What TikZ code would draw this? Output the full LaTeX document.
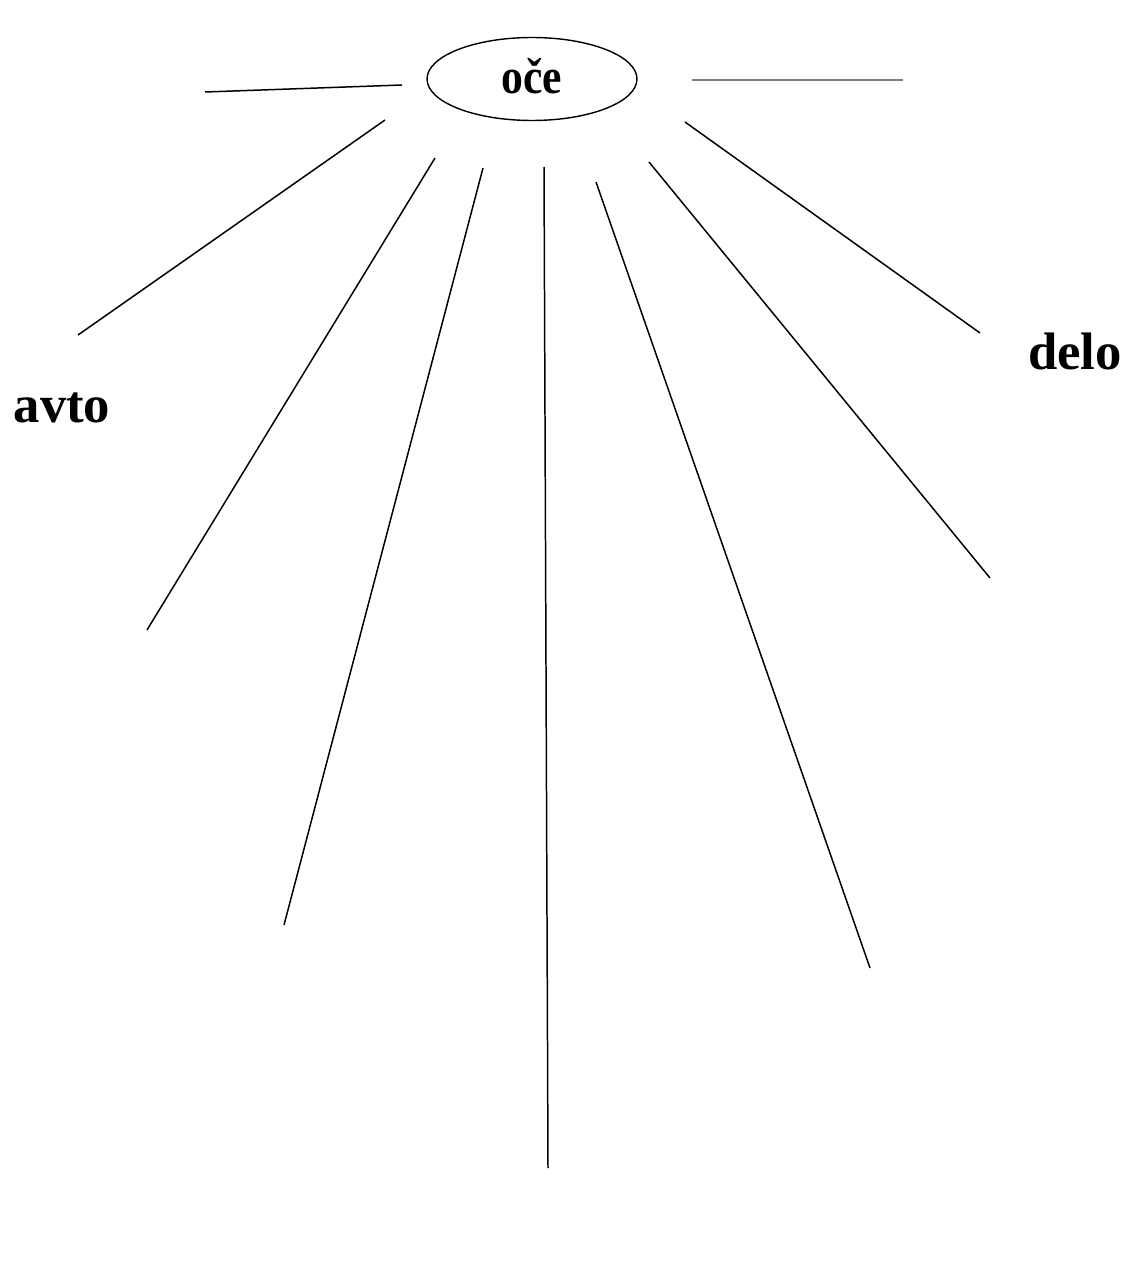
\documentclass[tikz,border=0pt]{standalone}
\usepackage{fontspec}
\setmainfont{Liberation Serif}
\usetikzlibrary{shapes.geometric}

\begin{document}
\begin{tikzpicture}[x=0.02cm,y=-0.02cm,
    ray/.style={line width=0.85pt,black},
    word/.style={font=\bfseries\fontsize{30}{35}\selectfont}]
    \useasboundingbox (0,0) rectangle (1126,1284);
    % Ellipse i midten
    \node[draw,ellipse,line width=0.8pt,inner sep=0pt,minimum width=4.2cm,minimum height=1.66cm,
      font=\bfseries\fontsize{27}{32}\selectfont] (oce) at (532,79) {\raisebox{4pt}{\scalebox{0.92}[1.05]{oče}}};
    % Stråler ud fra ellipsen
    \foreach \i/\xa/\ya/\xb/\yb in {1/402/85/205/92,3/385/120/78/335,4/435/158/147/630,
        5/483/168/284/925,6/544/167/548/1168,7/596/182/870/968,8/649/162/990/578,9/685/122/980/333} {
      \coordinate (s\i) at (\xa,\ya);
      \coordinate (e\i) at (\xb,\yb);
      \draw[ray] (s\i) -- (e\i);
    }
    \coordinate (s2) at (692,80);
    \coordinate (e2) at (903,80);
    \draw[ray,gray] (s2) -- (e2);
    % Ord
    \node[word] (avto) at (62,408) {avto};
    \node[word] (delo) at (1075,351) {delo};
\end{tikzpicture}
\end{document}
